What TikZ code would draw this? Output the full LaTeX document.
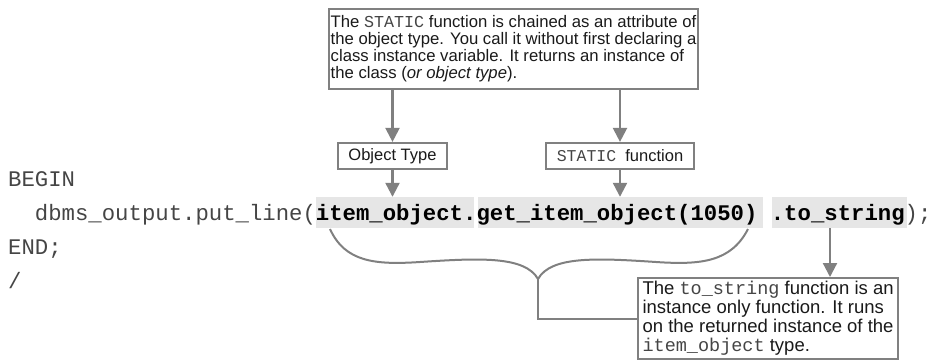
\documentclass[tikz,border=0pt]{standalone}
\usepackage{fontspec}
\setmainfont{Liberation Sans}
\setmonofont{Liberation Mono}
\usetikzlibrary{arrows.meta,backgrounds}
\definecolor{lg}{HTML}{808080}
\definecolor{hl}{HTML}{E6E6E6}
\definecolor{codec}{HTML}{454545}
\definecolor{txt}{HTML}{1A1A1A}
\newcommand{\codefont}{\fontsize{22.3pt}{34pt}\selectfont\ttfamily}
\newcommand{\mytt}[1]{{\ttfamily\color{codec}#1}}
\begin{document}
\begin{tikzpicture}[x=1pt,y=-1pt,
  conn/.style={draw=lg, line width=2.2pt},
  arr/.style={conn, -{Triangle[width=14pt,length=14pt]}},
  boxstyle/.style={draw=lg, line width=2.2pt, fill=white, inner sep=0pt, text=txt, align=left},
  code/.style={inner sep=0pt, anchor=base west, font=\codefont, text=codec},
  hlcode/.style={code, text height=23pt, text depth=8pt, text=black},
]
\useasboundingbox (0,0) rectangle (935,360);

% annotation boxes
\node[boxstyle, anchor=north west, minimum width=369pt, minimum height=80pt,
      font=\fontsize{16.7pt}{17pt}\selectfont] (top) at (328,8)
  {The \mytt{STATIC} function is chained as an attribute of\\
   the object type. You call it without first declaring a\\
   class instance variable. It returns an instance of\\
   the class (\textit{or object type}).};
\node[boxstyle, minimum width=109pt, minimum height=26pt,
      font=\fontsize{16.5pt}{18pt}\selectfont] (ot) at (392.5,156) {Object Type};
\node[boxstyle, minimum width=148pt, minimum height=26pt,
      font=\fontsize{16.5pt}{18pt}\selectfont] (sf) at (620,156) {\mytt{STATIC}\ \ function};
\node[boxstyle, anchor=north west, minimum width=260pt, minimum height=81pt,
      font=\fontsize{18.5pt}{19pt}\selectfont] (bb) at (637,277)
  {The \mytt{to\_string} function is an\\
   instance only function. It runs\\
   on the returned instance of the\\
   \mytt{item\_object} type.};

% code
\node[code] (begin) at (8,186) {BEGIN};
\node[code] (pre) at (34.76,220) {dbms\_output.put\_line(};
\node[hlcode] (io) at (315.74,220) {\textbf{item\_object.}};
\node[hlcode] (gio) at (476.3,220) {\textbf{get\_item\_object(1050)}};
\node[hlcode] (ts) at (770.66,220) {\textbf{.to\_string}};
\node[code] (post) at (904.46,220) {);};
\node[code] (end) at (8,254) {END;};
\node[code] (slash) at (8,288) {/};

\begin{scope}[on background layer]
  \fill[hl] (io.north west) rectangle ([xshift=-3pt]io.south east);
  \fill[hl] ([xshift=1.5pt]gio.north west) rectangle ([xshift=5pt]gio.south east);
  \fill[hl] ([xshift=1.5pt]ts.north west) rectangle ([xshift=2pt]ts.south east);
\end{scope}

% arrows
\draw[arr] (top.south -| ot) -- (ot.north);
\draw[arr] (ot.south) -- (ot.south |- io.north);
\draw[arr] (top.south -| sf) -- (sf.north);
\draw[arr] (sf.south) -- (sf.south |- gio.north);
\coordinate (tsx) at (830,0);
\draw[arr] (tsx |- ts.south) -- (tsx |- bb.north);

% brace
\coordinate (bl) at (330,229);
\coordinate (br) at (748,229);
\coordinate (tip) at (538,279);
\draw[conn, line width=2pt] (bl) .. controls (345,262) and (375,265) .. (420,262)
  .. controls (480,258) and (525,256) .. (tip)
  .. controls (551,256) and (596,258) .. (656,262)
  .. controls (701,265) and (731,262) .. (br);
\draw[conn] (tip) |- (bb.west);
\end{tikzpicture}
\end{document}
